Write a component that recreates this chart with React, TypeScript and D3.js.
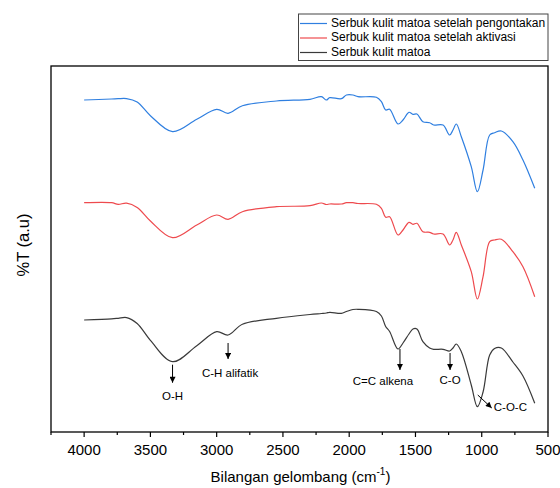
import React from "react";
import * as d3 from "d3";

// Wavenumbers (cm^-1) shared by the three spectra
const wavenumbers = [4000, 3793, 3743, 3680, 3600, 3500, 3333, 3150, 3000, 2914, 2806, 2549, 2296, 2210, 2172, 2147, 2059, 2021, 1972, 1934, 1795, 1757, 1725, 1695, 1632, 1594, 1549, 1519, 1489, 1444, 1393, 1363, 1292, 1242, 1217, 1192, 1154, 1079, 1033, 990, 940, 903, 852, 765, 689, 600];

// Transmittance (arbitrary units, stacked)
const pengontakan = [332, 333, 333.3, 333.4, 330, 316.3, 300.3, 312.7, 322.7, 318.7, 326.3, 331, 332.7, 335.3, 332, 334.3, 333.3, 337, 337, 335.3, 334.7, 330.3, 322, 322.7, 308, 312, 319.7, 317.7, 318, 310.3, 309.3, 307, 307, 297, 302, 308, 295.3, 265.3, 240.3, 262, 297, 299.3, 301, 290.3, 272, 243.7];
const aktivasi = [229.3, 229.3, 227.7, 228.8, 224.5, 211, 194.3, 207, 217, 212.7, 220.3, 225.3, 226.3, 229, 227.5, 228, 228, 229.3, 229.3, 228.5, 227.7, 223.7, 214.7, 215.3, 197, 202, 209.7, 207.7, 208.7, 200.3, 199.7, 198, 198, 187, 192, 199.7, 187, 160.3, 133, 155.3, 190.3, 192, 192.7, 180.3, 165.3, 135.3];
const matoa = [112, 113.2, 113.7, 114.4, 108.5, 91.7, 70.3, 86.3, 100.3, 97, 107.7, 113.7, 117.5, 118.5, 119, 119.7, 118.7, 120.5, 122.5, 122.7, 120.5, 116, 105.5, 100.5, 83, 89, 98, 103, 103, 90.3, 84, 82.7, 82.7, 81, 84, 88, 80.3, 47, 25.3, 40, 77, 83.5, 84, 70, 56, 28.7];

const seriesNames = ["Serbuk kulit matoa setelah pengontakan", "Serbuk kulit matoa setelah aktivasi", "Serbuk kulit matoa"];
const seriesColors = ["#2f7fe0", "#ee4a4e", "#3a3a3a"];

const majorTicks = [4000, 3500, 3000, 2500, 2000, 1500, 1000, 500];
const minorTicks = [4250, 3750, 3250, 2750, 2250, 1750, 1250, 750];

// Band annotations on the bottom spectrum
const bandLabels = ["O-H", "C-H alifatik", "C=C alkena", "C-O", "C-O-C"];
const bandWavenumbers = [3333, 2914, 1617, 1239, 1030];

const FONT = "'Liberation Sans', Arial, Helvetica, sans-serif";

export default function App() {
  const W = 560, H = 488;
  const left = 51, right = 548, top = 66, bottom = 432;
  const x = d3.scaleLinear().domain([4250, 500]).range([left, right]);
  const y = d3.scaleLinear().domain([0, 366]).range([bottom, top]);

  const seriesData = [pengontakan, aktivasi, matoa];
  const line = d3
    .line<[number, number]>()
    .x((d) => x(d[0]))
    .y((d) => y(d[1]))
    .curve(d3.curveCatmullRom.alpha(0.5));

  const matoaAt = (w: number) => {
    const i = d3.bisector((d: number) => -d).left(wavenumbers, -w);
    const i0 = Math.max(0, Math.min(wavenumbers.length - 1, i));
    return matoa[i0];
  };

  // annotation layout (pixel offsets)
  const arrowGap = [3, 8, 6, 5, 0];
  const arrowLen = [18, 16, 21, 17, 0];
  const labelDx = [0, 2, -17, 0, 0];
  const labelDy = [14, 15, 12, 11, 0];

  return (
    <svg width={W} height={H} style={{ position: "absolute", left: 0, top: 0, background: "#fff" }} fontFamily={FONT}>
      <defs>
        <marker id="ah" viewBox="0 0 10 10" refX="10" refY="5" markerWidth="9" markerHeight="6" orient="auto" markerUnits="userSpaceOnUse">
          <path d="M0,0 L10,5 L0,10 z" fill="#000" />
        </marker>
      </defs>

      {seriesData.map((vals, si) => (
        <path
          key={si}
          d={line(wavenumbers.map((w, i) => [w, vals[i]] as [number, number])) || ""}
          fill="none"
          stroke={seriesColors[si]}
          strokeWidth={1.2}
        />
      ))}

      {/* frame */}
      <rect x={left} y={top} width={right - left} height={bottom - top} fill="none" stroke="#000" strokeWidth={1.3} />

      {/* x axis ticks */}
      {majorTicks.map((t) => (
        <g key={"M" + t}>
          <line x1={x(t)} x2={x(t)} y1={bottom} y2={bottom + 5} stroke="#000" strokeWidth={1.2} />
          <text x={x(t)} y={bottom + 19} fontSize={15} textAnchor="middle" dominantBaseline="middle">
            {t}
          </text>
        </g>
      ))}
      {minorTicks.map((t) => (
        <line key={"m" + t} x1={x(t)} x2={x(t)} y1={bottom} y2={bottom + 3} stroke="#000" strokeWidth={1.2} />
      ))}

      <text x={(left + right) / 2 + 1} y={478} fontSize={15} textAnchor="middle" dominantBaseline="middle">
        Bilangan gelombang (cm
        <tspan fontSize={10} dy={-6}>-1</tspan>
        <tspan dy={6}>)</tspan>
      </text>

      <text transform={`translate(25,245) rotate(-90)`} fontSize={16.5} textAnchor="middle" dominantBaseline="middle">
        %T (a.u)
      </text>

      {/* annotations */}
      {bandLabels.map((lab, i) => {
        const w = bandWavenumbers[i];
        const px = x(w);
        const py = y(matoaAt(w));
        if (lab === "C-O-C") {
          return (
            <g key={lab}>
              <line x1={px} y1={py + 3} x2={px + 14} y2={py + 16} stroke="#000" strokeWidth={1} markerEnd="url(#ah)" />
              <text x={px + 16} y={py + 16} fontSize={11.5} dominantBaseline="middle">
                {lab}
              </text>
            </g>
          );
        }
        const y1 = py + arrowGap[i];
        const y2 = y1 + arrowLen[i];
        return (
          <g key={lab}>
            <line x1={px} y1={y1} x2={px} y2={y2} stroke="#000" strokeWidth={1} markerEnd="url(#ah)" />
            <text x={px + labelDx[i]} y={y2 + labelDy[i]} fontSize={11.5} textAnchor="middle" dominantBaseline="middle">
              {lab}
            </text>
          </g>
        );
      })}

      {/* legend */}
      <rect x={298.5} y={14} width={249.5} height={46.5} fill="#fff" stroke="#444" strokeWidth={1} />
      {seriesNames.map((n, i) => (
        <g key={n}>
          <line x1={300} x2={327} y1={23.5 + i * 14.5} y2={23.5 + i * 14.5} stroke={seriesColors[i]} strokeWidth={1.2} />
          <text x={331} y={23.5 + i * 14.5} fontSize={12} dominantBaseline="middle">
            {n}
          </text>
        </g>
      ))}
    </svg>
  );
}
